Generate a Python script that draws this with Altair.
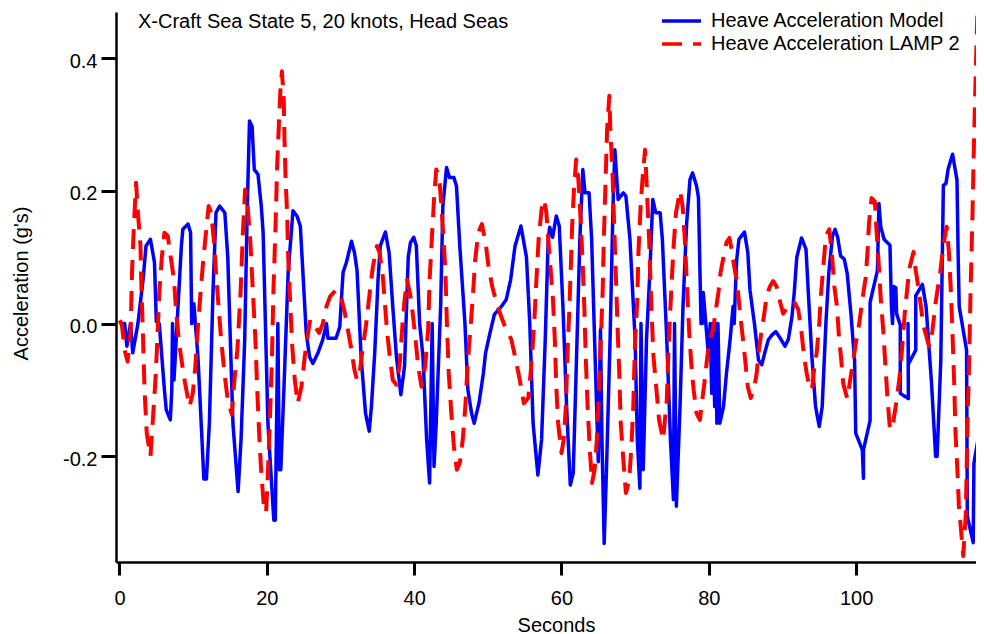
import altair as alt
import pandas as pd

TITLE = "X-Craft Sea State 5, 20 knots, Head Seas"
SERIES = ["Heave Acceleration Model", "Heave Acceleration LAMP 2"]
X_TITLE = "Seconds"
Y_TITLE = "Acceleration (g's)"
X_TICKS = [0, 20, 40, 60, 80, 100]
Y_TICKS = [-0.2, 0.0, 0.2, 0.4]

# (seconds, acceleration g's)
MODEL = [
    (0.0, 0.0), (0.7, 0.0), (1.0, -0.034), (1.5, 0.0), (1.8, -0.044), (2.5, 0.0),
    (3.2, 0.066), (3.6, 0.117), (4.2, 0.127), (4.75, 0.092), (5.0, 0.003), (5.4, 0.0),
    (6.1, -0.10), (6.35, -0.13), (6.9, -0.145), (7.1, -0.10), (7.2, 0.0), (7.4, -0.085),
    (7.7, -0.024), (7.9, 0.016), (8.4, 0.117), (8.6, 0.142), (9.3, 0.15), (9.65, 0.137),
    (9.8, 0.0), (10.1, 0.03), (10.3, 0.0), (10.65, -0.05), (11.2, -0.175), (11.45, -0.234),
    (11.8, -0.234), (12.2, -0.15), (12.7, 0.05), (13.1, 0.167), (13.6, 0.177), (14.3, 0.167),
    (14.7, 0.10), (15.4, -0.15), (16.1, -0.253), (16.5, -0.175), (17.0, -0.024), (17.35, 0.177),
    (17.65, 0.305), (18.0, 0.297), (18.3, 0.232), (18.8, 0.225), (19.25, 0.177), (19.5, 0.137),
    (20.15, -0.15), (20.95, -0.296), (21.15, -0.296), (21.5, 0.0), (21.7, -0.22), (21.9, -0.22),
    (22.4, -0.075), (22.9, 0.077), (23.55, 0.17), (24.1, 0.162), (24.55, 0.147), (24.9, 0.077),
    (25.35, -0.014), (25.8, -0.05), (26.25, -0.06), (26.95, -0.044), (27.6, -0.024), (28.1, 0.0),
    (28.3, -0.022), (29.4, -0.022), (29.9, -0.005), (30.35, 0.077), (30.8, 0.092), (31.5, 0.124),
    (31.9, 0.107), (32.25, 0.08), (32.8, -0.05), (33.4, -0.135), (33.9, -0.162), (34.2, -0.125),
    (34.65, -0.044), (35.1, 0.066), (35.4, 0.117), (36.1, 0.138), (36.6, 0.107), (37.1, 0.026),
    (37.6, -0.05), (38.2, -0.107), (38.7, -0.064), (39.2, 0.10), (39.5, 0.122), (39.95, 0.13),
    (40.3, 0.117), (40.75, 0.0), (41.2, -0.05), (41.7, -0.175), (42.1, -0.24), (42.45, 0.0),
    (42.7, -0.215), (43.0, -0.15), (43.6, 0.026), (43.9, 0.177), (44.4, 0.235), (44.8, 0.22),
    (45.4, 0.22), (45.75, 0.207), (46.2, 0.117), (46.9, 0.0), (47.3, -0.10), (47.8, -0.135),
    (48.15, -0.15), (48.8, -0.12), (49.4, -0.075), (49.7, -0.044), (50.3, -0.014), (50.9, 0.014),
    (51.85, 0.026), (52.5, 0.036), (53.1, 0.066), (53.7, 0.117), (54.5, 0.147), (55.25, 0.10),
    (55.7, 0.0), (56.15, -0.15), (56.8, -0.228), (57.3, -0.175), (57.8, -0.024), (58.2, 0.127),
    (58.4, 0.145), (58.8, 0.13), (59.3, 0.162), (59.7, 0.147), (60.2, 0.026), (60.7, -0.125),
    (61.2, -0.243), (61.6, -0.225), (62.05, -0.05), (62.5, 0.127), (62.9, 0.232), (63.2, 0.197),
    (63.75, 0.197), (64.1, 0.127), (64.5, -0.024), (65.0, -0.208), (65.3, -0.009), (65.5, -0.175),
    (65.8, -0.331), (66.1, -0.225), (66.6, -0.024), (67.0, 0.177), (67.25, 0.262), (67.7, 0.187),
    (68.4, 0.197), (68.75, 0.192), (69.3, 0.127), (70.0, -0.024), (70.3, -0.175), (70.65, -0.248),
    (70.8, 0.0), (71.1, -0.22), (71.55, -0.024), (72.0, 0.077), (72.4, 0.187), (72.8, 0.167),
    (73.4, 0.167), (73.7, 0.127), (74.3, -0.024), (74.8, -0.175), (75.2, -0.265), (75.35, 0.0),
    (75.6, -0.275), (76.1, -0.125), (76.5, 0.026), (77.0, 0.152), (77.45, 0.217), (77.8, 0.227),
    (78.35, 0.207), (78.6, 0.19), (78.95, 0.0), (79.1, 0.0), (79.25, 0.047), (79.6, 0.0),
    (79.95, -0.047), (80.2, 0.0), (80.4, -0.105), (80.6, 0.0), (80.8, -0.125), (80.95, 0.0),
    (81.1, -0.15), (81.25, 0.0), (81.5, -0.15), (82.0, -0.125), (82.4, -0.075), (82.9, -0.024),
    (83.3, 0.026), (83.45, 0.0), (83.65, 0.061), (83.8, 0.097), (84.1, 0.127), (84.85, 0.138),
    (85.3, 0.107), (85.6, 0.05), (86.2, 0.0), (86.75, -0.055), (87.2, -0.062), (87.6, -0.044),
    (88.1, -0.024), (88.6, -0.017), (89.1, -0.012), (89.7, -0.022), (90.35, -0.034), (90.8, -0.024),
    (91.3, 0.011), (91.6, 0.046), (91.95, 0.10), (92.6, 0.129), (93.2, 0.112), (93.5, 0.05),
    (94.0, -0.05), (94.5, -0.125), (95.0, -0.155), (95.4, -0.125), (95.9, 0.0), (96.3, 0.077),
    (96.8, 0.132), (97.15, 0.142), (97.5, 0.13), (97.9, 0.102), (98.4, 0.097), (98.8, 0.075),
    (99.3, 0.015), (99.8, -0.056), (99.95, -0.165), (100.85, -0.19), (101.0, -0.233), (101.0, -0.19),
    (101.9, -0.146), (101.9, 0.032), (102.9, 0.08), (103.1, 0.181), (103.35, 0.146), (103.8, 0.127),
    (104.6, 0.118), (104.8, 0.026), (104.95, 0.0), (105.1, 0.056), (105.4, 0.054), (105.5, 0.015),
    (106.0, -0.002), (106.0, -0.105), (107.1, -0.113), (107.05, 0.0), (107.1, -0.061), (108.1, -0.04),
    (108.1, 0.042), (109.0, 0.059), (109.5, 0.026), (110.25, -0.091), (110.8, -0.2), (111.0, -0.2),
    (111.5, -0.056), (111.85, 0.208), (112.2, 0.211), (112.5, 0.233), (113.1, 0.255), (113.7, 0.216),
    (113.85, 0.107), (114.0, 0.026), (115.0, -0.04), (115.1, -0.29), (115.9, -0.33), (116.0, -0.21),
    (116.85, -0.155), (117.36, 0.03),
]

LAMP2 = [
    (0.0, 0.005), (0.3, 0.0), (0.7, -0.04), (1.1, -0.057), (1.5, -0.014), (1.7, 0.077),
    (1.95, 0.147), (2.25, 0.212), (2.5, 0.167), (2.85, 0.117), (2.95, 0.066), (3.2, -0.024),
    (3.4, -0.10), (3.7, -0.165), (4.2, -0.20), (4.5, -0.15), (4.85, -0.09), (5.1, -0.034),
    (5.4, 0.046), (5.75, 0.10), (6.1, 0.137), (6.55, 0.132), (7.0, 0.097), (7.4, 0.066),
    (7.7, 0.016), (8.15, -0.034), (8.75, -0.08), (9.5, -0.125), (9.95, -0.105), (10.3, -0.064),
    (10.65, -0.004), (11.0, 0.046), (11.3, 0.086), (11.65, 0.127), (12.1, 0.177), (12.45, 0.167),
    (12.8, 0.127), (13.1, 0.077), (13.45, 0.026), (13.8, -0.024), (14.25, -0.075), (14.7, -0.115),
    (15.25, -0.137), (15.6, -0.085), (16.0, -0.04), (16.45, 0.05), (16.75, 0.137), (17.05, 0.202),
    (17.4, 0.177), (17.8, 0.117), (18.1, 0.05), (18.45, -0.024), (18.7, -0.10), (19.0, -0.175),
    (19.25, -0.225), (19.6, -0.275), (19.9, -0.285), (20.15, -0.225), (20.4, -0.15), (20.7, -0.05),
    (20.9, 0.05), (21.2, 0.152), (21.4, 0.237), (21.65, 0.303), (21.85, 0.353), (22.05, 0.38),
    (22.3, 0.338), (22.4, 0.277), (22.55, 0.217), (22.75, 0.167), (22.9, 0.10), (23.2, 0.026),
    (23.45, -0.034), (23.8, -0.085), (24.2, -0.12), (24.7, -0.095), (25.15, -0.05), (25.6, -0.014),
    (25.9, 0.006), (26.5, -0.004), (27.1, -0.014), (27.6, 0.0), (28.1, 0.026), (28.6, 0.041),
    (29.35, 0.05), (30.0, 0.044), (30.6, 0.016), (31.0, -0.009), (31.5, -0.04), (31.9, -0.07),
    (32.25, -0.085), (32.6, -0.075), (33.05, -0.034), (33.5, 0.0), (34.0, 0.05), (34.4, 0.086),
    (34.95, 0.117), (35.3, 0.107), (35.7, 0.077), (36.0, 0.036), (36.3, -0.009), (36.7, -0.05),
    (37.1, -0.085), (37.6, -0.092), (38.05, -0.06), (38.4, -0.004), (38.7, 0.036), (39.05, 0.066),
    (39.6, 0.036), (40.1, -0.014), (40.55, -0.064), (41.0, -0.095), (41.5, -0.064), (41.9, -0.009),
    (42.1, 0.066), (42.45, 0.137), (42.7, 0.187), (43.0, 0.232), (43.4, 0.222), (43.7, 0.177),
    (44.0, 0.127), (44.25, 0.077), (44.45, 0.0), (44.7, -0.075), (45.05, -0.135), (45.4, -0.185),
    (45.8, -0.22), (46.2, -0.21), (46.6, -0.175), (46.95, -0.125), (47.3, -0.055), (47.7, 0.0),
    (48.0, 0.046), (48.3, 0.097), (48.7, 0.137), (49.2, 0.15), (49.7, 0.122), (50.1, 0.086),
    (50.6, 0.056), (51.2, 0.031), (51.8, 0.011), (52.5, -0.009), (53.2, -0.024), (53.8, -0.055),
    (54.35, -0.085), (54.9, -0.12), (55.5, -0.112), (55.9, -0.064), (56.3, 0.0), (56.6, 0.066),
    (56.9, 0.127), (57.3, 0.172), (57.65, 0.187), (57.95, 0.167), (58.4, 0.10), (58.85, 0.036),
    (59.1, -0.024), (59.3, -0.095), (59.55, -0.15), (60.0, -0.195), (60.3, -0.175), (60.6, -0.125),
    (60.8, -0.05), (61.05, 0.016), (61.25, 0.077), (61.45, 0.147), (61.7, 0.202), (62.0, 0.247),
    (62.3, 0.217), (62.6, 0.157), (62.9, 0.086), (63.1, 0.026), (63.3, -0.05), (63.55, -0.125),
    (63.85, -0.19), (64.15, -0.24), (64.5, -0.22), (64.8, -0.175), (65.1, -0.10), (65.35, -0.024),
    (65.6, 0.05), (65.75, 0.127), (66.0, 0.217), (66.2, 0.293), (66.5, 0.343), (66.65, 0.288),
    (66.9, 0.237), (67.1, 0.167), (67.35, 0.086), (67.6, 0.0), (67.85, -0.075), (68.05, -0.15),
    (68.4, -0.205), (68.75, -0.255), (69.2, -0.235), (69.5, -0.185), (69.75, -0.125), (70.0, -0.024),
    (70.3, 0.036), (70.45, 0.107), (70.75, 0.177), (71.0, 0.217), (71.35, 0.262), (71.6, 0.202),
    (71.9, 0.127), (72.2, 0.026), (72.5, -0.05), (72.9, -0.10), (73.25, -0.145), (73.8, -0.175),
    (74.3, -0.115), (74.5, -0.05), (74.8, 0.026), (75.2, 0.112), (75.55, 0.167), (76.1, 0.20),
    (76.45, 0.177), (76.75, 0.127), (77.0, 0.066), (77.35, -0.014), (77.65, -0.064), (77.95, -0.10),
    (78.35, -0.135), (78.8, -0.145), (79.0, -0.125), (79.4, -0.09), (79.8, -0.05), (80.15, -0.024),
    (80.6, -0.009), (80.9, 0.016), (81.3, 0.046), (81.6, 0.077), (82.0, 0.10), (82.4, 0.122),
    (82.8, 0.129), (83.1, 0.112), (83.45, 0.086), (83.8, 0.066), (84.25, 0.016), (84.55, -0.014),
    (84.9, -0.05), (85.3, -0.095), (85.7, -0.112), (86.2, -0.095), (86.5, -0.075), (86.8, -0.04),
    (87.2, -0.009), (87.55, 0.016), (87.85, 0.041), (88.3, 0.056), (88.75, 0.064), (89.2, 0.056),
    (89.5, 0.041), (90.1, 0.015), (90.8, 0.026), (91.25, 0.033), (91.7, 0.031), (92.15, 0.021),
    (92.6, -0.014), (92.95, -0.05), (93.3, -0.075), (93.75, -0.10), (94.05, -0.095), (94.35, -0.064),
    (94.65, -0.044), (95.0, 0.0), (95.25, 0.046), (95.55, 0.086), (95.9, 0.132), (96.35, 0.142),
    (96.7, 0.107), (97.05, 0.056), (97.4, 0.026), (97.7, -0.024), (97.95, -0.05), (98.25, -0.09),
    (98.8, -0.113), (99.45, -0.067), (99.9, -0.034), (100.4, -0.002), (100.85, 0.036), (101.3, 0.069),
    (101.55, 0.108), (101.75, 0.151), (102.1, 0.189), (102.55, 0.184), (102.8, 0.135), (103.1, 0.086),
    (103.35, 0.037), (103.7, -0.012), (104.0, -0.067), (104.25, -0.11), (104.6, -0.16), (105.05, -0.148),
    (105.5, -0.116), (106.0, -0.072), (106.3, -0.029), (106.6, 0.015), (107.0, 0.059), (107.3, 0.086),
    (107.8, 0.108), (108.1, 0.08), (108.55, 0.048), (109.1, -0.001), (109.9, -0.034), (110.35, -0.012),
    (110.8, 0.032), (111.4, 0.075), (111.85, 0.118), (112.3, 0.146), (112.6, 0.108), (112.85, 0.053),
    (113.05, -0.002), (113.3, -0.083), (113.5, -0.165), (113.75, -0.219), (113.95, -0.273), (114.3, -0.317),
    (114.55, -0.35), (114.9, -0.285), (115.1, -0.165), (115.35, -0.056), (115.55, 0.053), (115.8, 0.162),
    (116.0, 0.271), (116.25, 0.38), (116.45, 0.462), (116.7, 0.424), (116.9, 0.326), (117.1, 0.189),
    (117.4, 0.05),
]

rows = []
for name, pts in ((SERIES[0], MODEL), (SERIES[1], LAMP2)):
    for i, (t, v) in enumerate(pts):
        rows.append({"series": name, "t": t, "v": v, "i": i})
df = pd.DataFrame(rows)

FONT = "Liberation Sans"

x_scale = alt.Scale(domain=[-0.475, 116.28], nice=False, zero=False)
y_scale = alt.Scale(domain=[-0.359, 0.4693], nice=False, zero=False)

legend = alt.Legend(
    title=None, orient="none", legendX=554, legendY=-2.5, direction="vertical",
    symbolType="M-2,0H2", symbolSize=380, symbolStrokeWidth=3.5,
    labelFontSize=20, labelFont=FONT, labelColor="black", labelOffset=18,
    labelLimit=400, rowPadding=1, padding=0,
)

x_enc = alt.X(
    "t:Q", scale=x_scale,
    axis=alt.Axis(values=X_TICKS, format="d", title=X_TITLE, titleX=440, titleY=69,
                  titleBaseline="alphabetic", tickSize=13, labelPadding=13),
)
y_enc = alt.Y(
    "v:Q", scale=y_scale,
    axis=alt.Axis(values=Y_TICKS, title=Y_TITLE,
                  labelExpr="datum.value < 0 ? '-' + format(-datum.value, '.1f') : format(datum.value, '.1f')",
                  titleX=-89, titleY=271, titleAngle=270, titleBaseline="alphabetic",
                  tickSize=15, labelPadding=4, labelOffset=3),
)
color = alt.Color("series:N", scale=alt.Scale(domain=SERIES, range=["#0000ff", "#ff0000"]), legend=legend)
dash = alt.StrokeDash("series:N", scale=alt.Scale(domain=SERIES, range=[[1, 0], [20, 11]]), legend=legend)

base = alt.Chart(df)
model_line = base.transform_filter(alt.datum.series == SERIES[0]).mark_line(
    strokeWidth=3.5, clip=True, strokeJoin="round"
).encode(x=x_enc, y=y_enc, color=color, strokeDash=dash, order="i:Q")
lamp_line = base.transform_filter(alt.datum.series == SERIES[1]).mark_line(
    strokeWidth=4, clip=True, strokeJoin="round", strokeCap="butt"
).encode(x=x_enc, y=y_enc, color=color, strokeDash=dash, order="i:Q")

title_text = alt.Chart(pd.DataFrame({"label": [TITLE]})).mark_text(
    align="left", baseline="alphabetic", fontSize=20, font=FONT, color="black"
).encode(text="label:N", x=alt.value(22), y=alt.value(15.5))

chart = alt.layer(model_line, lamp_line, title_text).properties(
    width=860, height=550,
    padding={"left": 108, "top": 4, "right": 0, "bottom": 72},
    autosize=alt.AutoSizeParams(type="none"),
).configure_view(stroke=None).configure_axis(
    grid=False, domainColor="black", domainWidth=2.5, tickColor="black", tickWidth=3,
    labelFont=FONT, labelFontSize=20, labelColor="black",
    titleFont=FONT, titleFontSize=20, titleFontWeight="normal", titleColor="black",
)

chart.save("out.html", embed_options={"renderer": "svg", "actions": False})
